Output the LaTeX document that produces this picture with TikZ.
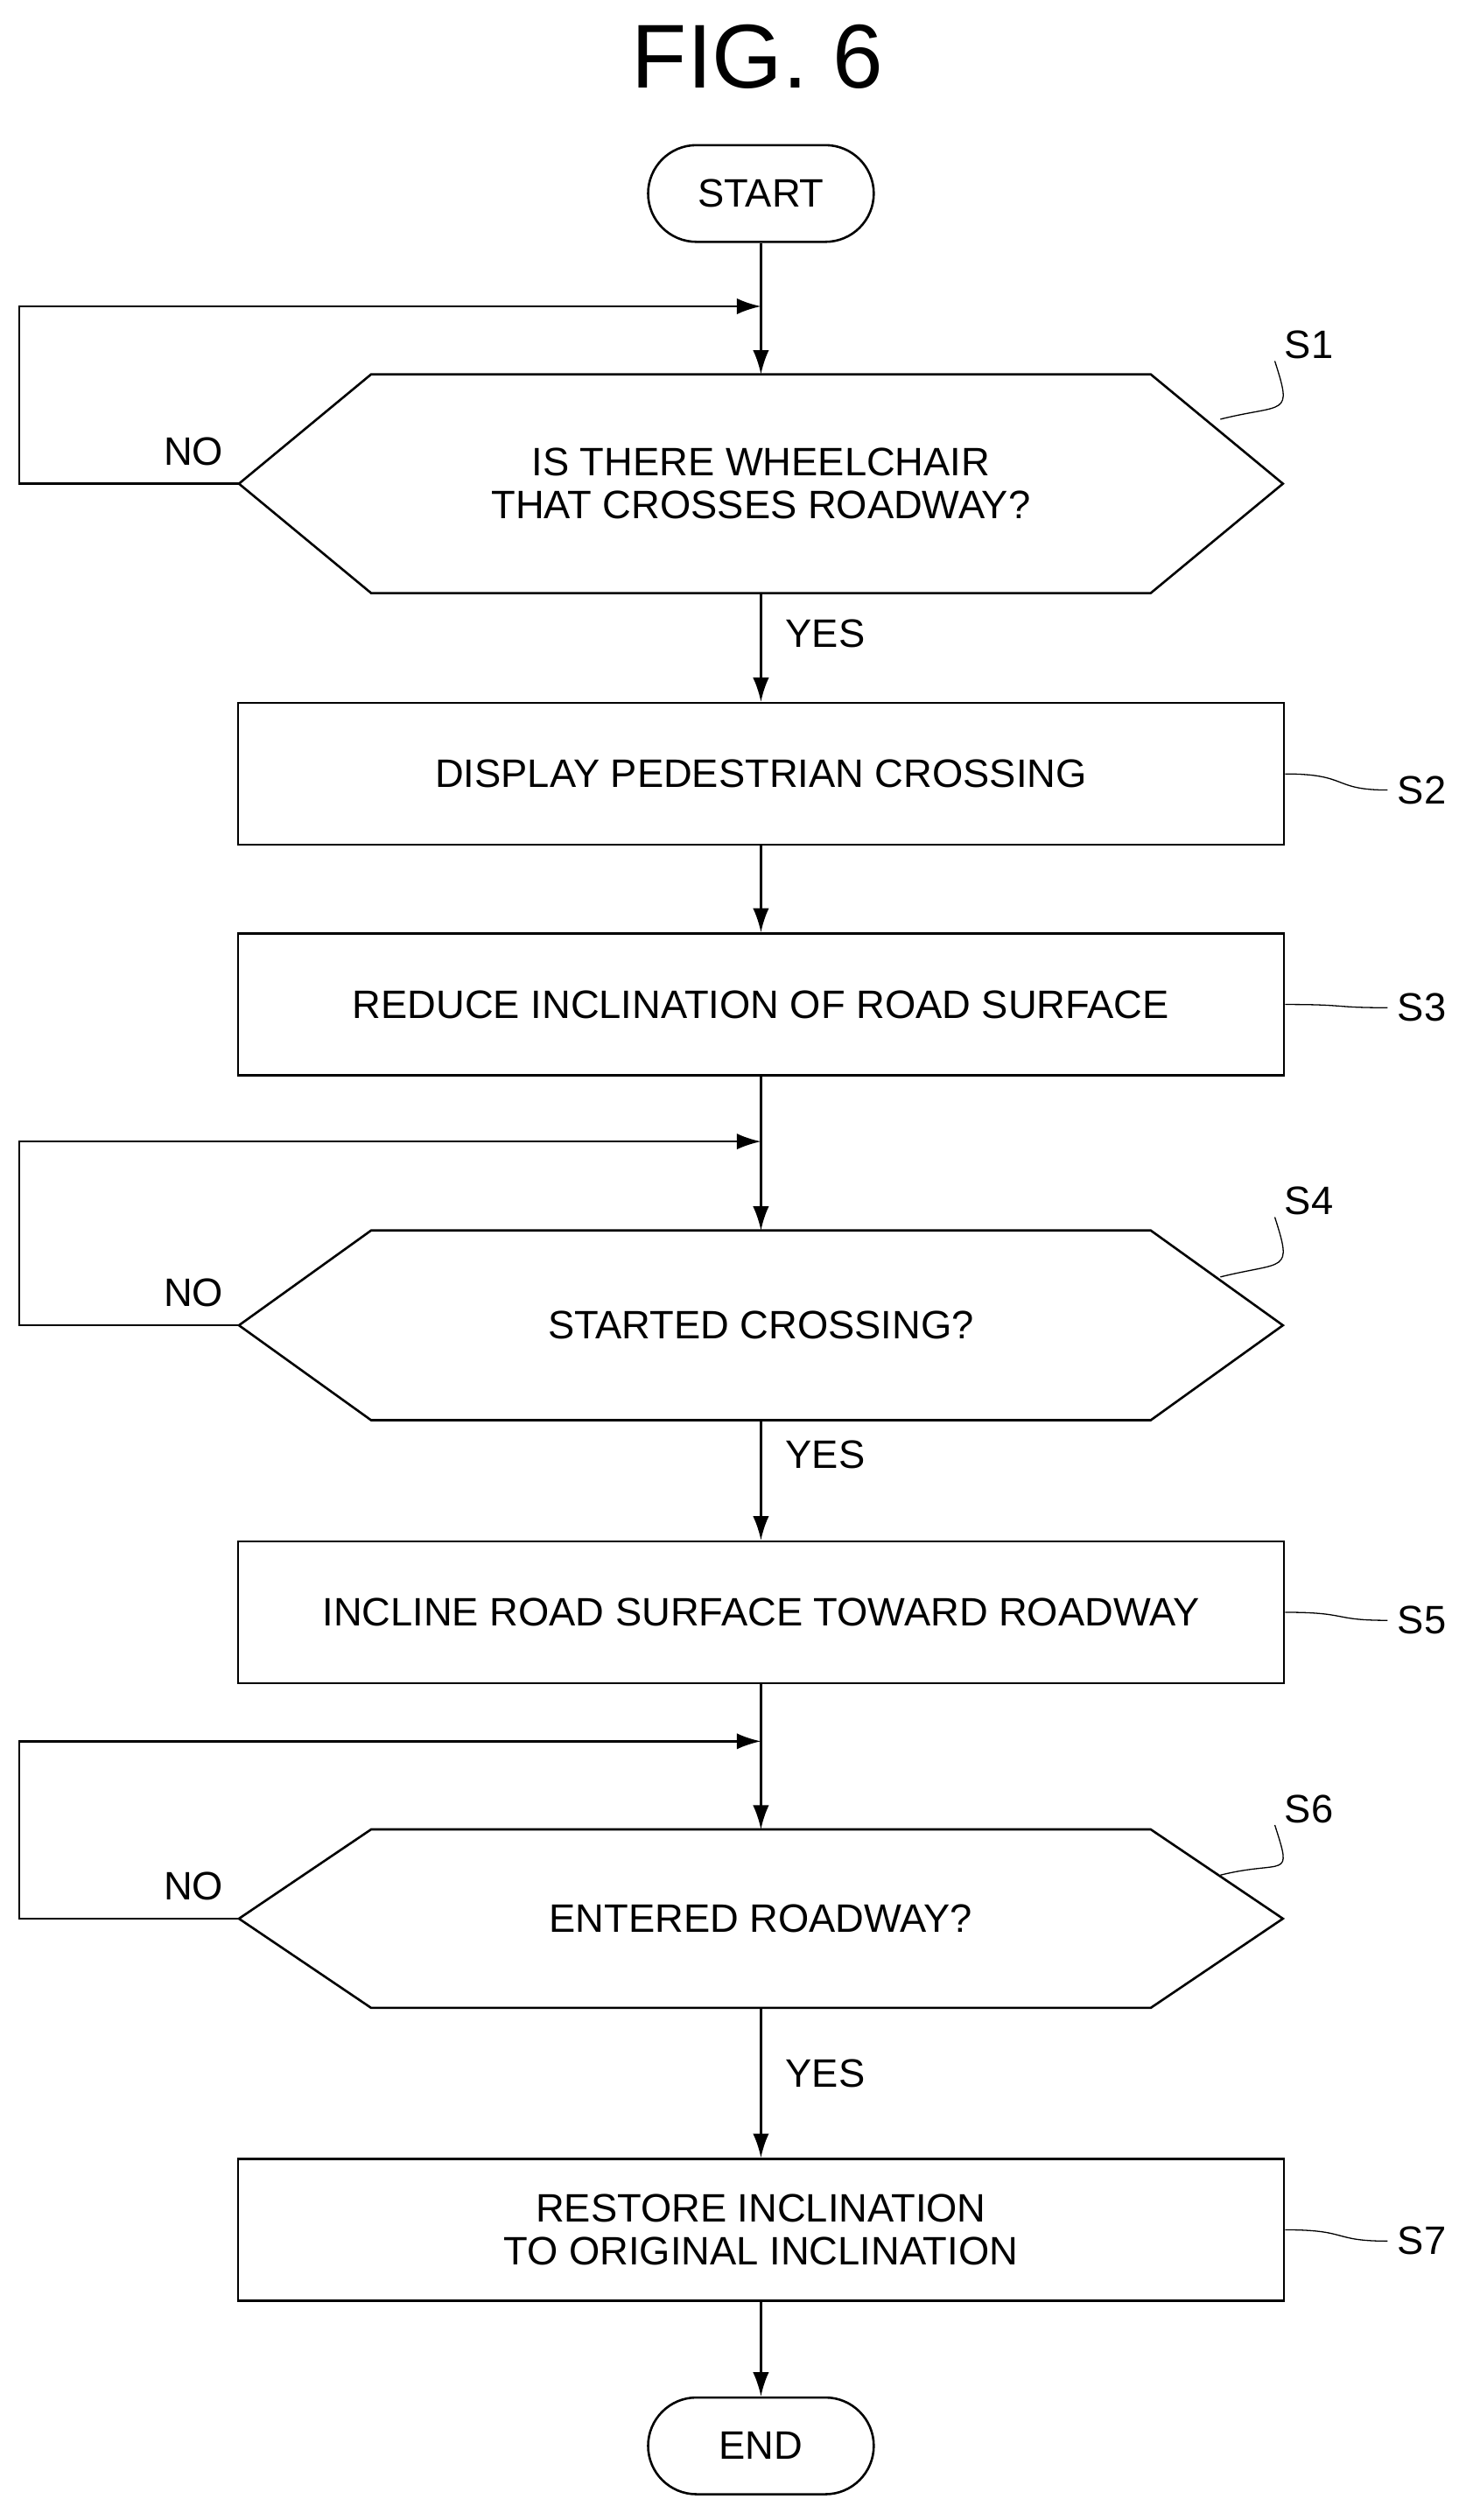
\documentclass[tikz,border=0pt]{standalone}
\usepackage{fontspec}
\setmainfont{Liberation Sans}
\usetikzlibrary{arrows.meta}

\tikzset{
  box/.style={draw,thick,minimum width=12.98cm,minimum height=1.76cm,align=center,font=\fontsize{14}{15}\selectfont},
  term/.style={draw,thick,minimum width=2.8cm,minimum height=1.2cm,rounded corners=0.6cm,font=\fontsize{14}{15}\selectfont},
  dec/.style={minimum width=12.94cm,align=center,font=\fontsize{14}{15}\selectfont},
  flow/.style={thick,-{Latex[length=3mm,width=2mm]}},
  lab/.style={font=\fontsize{14}{15}\selectfont}
}

\begin{document}
\begin{tikzpicture}[x=0.02cm,y=-0.02cm]
\useasboundingbox (0,0) rectangle (909,1563);
\node[font=\fontsize{32}{34}\selectfont] (title) at (470,35) {FIG. 6};

\node[term] (start) at (472,120) {START};
\node[dec,minimum height=2.7cm] (s1) at (472,300) {IS THERE WHEELCHAIR\\THAT CROSSES ROADWAY?};
\node[box] (s2) at (472,480) {DISPLAY PEDESTRIAN CROSSING};
\node[box] (s3) at (472,623) {REDUCE INCLINATION OF ROAD SURFACE};
\node[dec,minimum height=2.34cm] (s4) at (472,822) {STARTED CROSSING?};
\node[box] (s5) at (472,1000) {INCLINE ROAD SURFACE TOWARD ROADWAY};
\node[dec,minimum height=2.2cm] (s6) at (472,1190) {ENTERED ROADWAY?};
\node[box] (s7) at (472,1383) {RESTORE INCLINATION\\TO ORIGINAL INCLINATION};
\node[term] (end) at (472,1517) {END};

% decision outlines
\foreach \d in {s1,s4,s6}{
  \draw[thick] (\d.west) -- ([xshift=1.64cm]\d.north west) -- ([xshift=-1.64cm]\d.north east)
    -- (\d.east) -- ([xshift=-1.64cm]\d.south east) -- ([xshift=1.64cm]\d.south west) -- cycle;
}

% main flow
\coordinate (j1) at (472,190);
\coordinate (j4) at (472,708);
\coordinate (j6) at (472,1080);
\draw[thick] (start.south) -- (j1);
\draw[flow] (j1) -- (s1.north);
\draw[flow] (s1.south) -- (s2.north);
\draw[flow] (s2.south) -- (s3.north);
\draw[thick] (s3.south) -- (j4);
\draw[flow] (j4) -- (s4.north);
\draw[flow] (s4.south) -- (s5.north);
\draw[thick] (s5.south) -- (j6);
\draw[flow] (j6) -- (s6.north);
\draw[flow] (s6.south) -- (s7.north);
\draw[flow] (s7.south) -- (end.north);

% NO loops
\draw[flow] (s1.west) -- (12,300) -- (12,190) -- (j1);
\draw[flow] (s4.west) -- (12,822) -- (12,708) -- (j4);
\draw[flow] (s6.west) -- (12,1190) -- (12,1080) -- (j6);
\node[lab] (no1) at (120,280) {NO};
\node[lab] (no4) at (120,802) {NO};
\node[lab] (no6) at (120,1170) {NO};
\node[lab] (yes1) at (512,393) {YES};
\node[lab] (yes4) at (512,902) {YES};
\node[lab] (yes6) at (512,1286) {YES};

% step labels
\node[lab] (l1) at (812,214) {S1};
\node[lab] (l2) at (882,490) {S2};
\node[lab] (l3) at (882,625) {S3};
\node[lab] (l4) at (812,745) {S4};
\node[lab] (l5) at (882,1005) {S5};
\node[lab] (l6) at (812,1122) {S6};
\node[lab] (l7) at (882,1390) {S7};
\foreach \a/\b in {l2/s2,l3/s3,l5/s5,l7/s7}{
  \draw[thin] (\b.east) .. controls ([xshift=0.8cm]\b.east) and ([xshift=-0.7cm]\a.west) .. (\a.west);
}
\coordinate (c1) at (757,260);
\coordinate (c4) at (757,792);
\coordinate (c6) at (757,1163);
\foreach \a/\c in {l1/c1,l4/c4,l6/c6}{
  \draw[thin] (\c) .. controls ([xshift=0.8cm,yshift=0.2cm]\c) and ([xshift=-0.2cm,yshift=-0.6cm]\a.south) .. ([yshift=0.1cm]\a.south west);
}
\end{tikzpicture}
\end{document}
